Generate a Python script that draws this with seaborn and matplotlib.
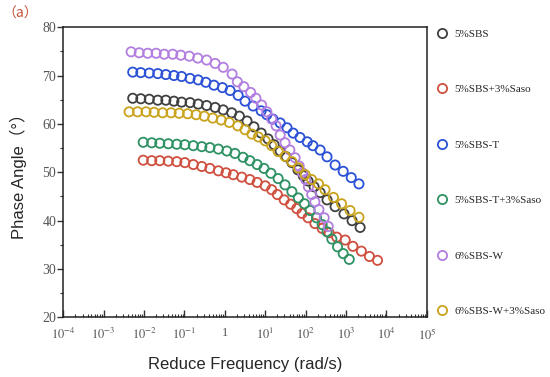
#!/usr/bin/env python3

import numpy as np
import pandas as pd
import matplotlib
matplotlib.use("Agg")
import matplotlib.pyplot as plt
from matplotlib.ticker import FixedLocator, FuncFormatter, LogLocator, MultipleLocator
import seaborn as sns

# log10 of reduced frequency (rad/s) and phase angle (deg)
sbs_logf = [-2.28, -2.08, -1.87, -1.66, -1.46, -1.26, -1.07, -0.86, -0.66, -0.45, -0.24, -0.04,
            0.17, 0.36, 0.55, 0.72, 0.90, 1.07, 1.22, 1.37, 1.52, 1.66, 1.81, 1.94, 2.06, 2.21,
            2.36, 2.53, 2.73, 2.95, 3.15, 3.35]
sbs_phase = [65.3, 65.2, 65.1, 64.9, 64.9, 64.7, 64.5, 64.4, 64.1, 63.8, 63.4, 62.9,
             62.3, 61.6, 60.6, 59.4, 58.1, 56.9, 55.7, 54.4, 53.2, 52.0, 50.5, 49.3, 48.2, 47.0,
             45.8, 44.3, 42.9, 41.4, 40.0, 38.6]

sbs_saso_logf = [-2.02, -1.81, -1.61, -1.40, -1.19, -0.99, -0.78, -0.57, -0.37, -0.16, 0.03, 0.21,
                 0.42, 0.62, 0.80, 1.00, 1.16, 1.30, 1.47, 1.63, 1.78, 1.91, 2.06, 2.23, 2.41,
                 2.58, 2.77, 2.98, 3.17, 3.38, 3.58, 3.78]
sbs_saso_phase = [52.5, 52.4, 52.4, 52.3, 52.2, 52.0, 51.6, 51.2, 50.8, 50.3, 49.9, 49.5,
                  49.0, 48.5, 47.9, 47.2, 46.4, 45.4, 44.3, 43.4, 42.5, 41.5, 40.6, 39.4, 38.4,
                  37.5, 36.6, 36.0, 34.7, 33.7, 32.6, 31.8]

sbs_t_logf = [-2.28, -2.08, -1.87, -1.66, -1.46, -1.26, -1.07, -0.86, -0.66, -0.47, -0.27, -0.06,
              0.13, 0.33, 0.50, 0.70, 0.90, 1.04, 1.19, 1.37, 1.54, 1.69, 1.86, 2.04, 2.18, 2.36,
              2.53, 2.73, 2.93, 3.13, 3.32]
sbs_t_phase = [70.7, 70.6, 70.5, 70.4, 70.2, 70.0, 69.8, 69.4, 69.1, 68.6, 68.0, 67.5,
               66.9, 65.9, 64.7, 63.7, 62.7, 61.9, 61.0, 60.2, 59.2, 58.1, 57.2, 56.3, 55.5, 54.6,
               53.2, 51.5, 50.2, 48.9, 47.6]

sbs_t_saso_logf = [-2.02, -1.81, -1.61, -1.40, -1.19, -0.99, -0.78, -0.57, -0.37, -0.16, 0.05, 0.25,
                   0.45, 0.62, 0.80, 0.97, 1.14, 1.32, 1.49, 1.66, 1.82, 1.97, 2.11, 2.27, 2.41,
                   2.53, 2.65, 2.79, 2.93, 3.08]
sbs_t_saso_phase = [56.2, 56.1, 56.0, 55.9, 55.8, 55.7, 55.5, 55.3, 55.1, 54.8, 54.4, 53.9,
                    53.1, 52.4, 51.6, 50.8, 49.8, 48.7, 47.4, 46.0, 44.7, 43.5, 42.1, 40.6, 39.2,
                    37.7, 36.2, 34.6, 33.2, 32.0]

sbs_w_logf = [-2.32, -2.12, -1.91, -1.70, -1.50, -1.29, -1.09, -0.88, -0.67, -0.45, -0.24, -0.04,
              0.18, 0.31, 0.47, 0.64, 0.77, 0.91, 1.04, 1.16, 1.27, 1.37, 1.49, 1.61, 1.74, 1.84,
              1.92, 2.00, 2.07, 2.15, 2.23, 2.33, 2.46, 2.56]
sbs_w_phase = [74.9, 74.7, 74.6, 74.6, 74.4, 74.4, 74.2, 74.0, 73.6, 73.2, 72.5, 71.7,
               70.3, 68.7, 67.7, 66.5, 65.3, 63.9, 62.5, 61.0, 59.6, 57.7, 56.1, 54.6, 53.0, 51.3,
               49.9, 48.5, 47.0, 45.4, 43.9, 42.3, 40.6, 38.8]

sbs_w_saso_logf = [-2.37, -2.16, -1.95, -1.75, -1.54, -1.33, -1.13, -0.92, -0.71, -0.51, -0.30, -0.09,
                   0.11, 0.32, 0.50, 0.67, 0.83, 1.00, 1.16, 1.32, 1.49, 1.66, 1.82, 1.99, 2.15,
                   2.32, 2.48, 2.69, 2.89, 3.10, 3.32]
sbs_w_saso_phase = [62.5, 62.5, 62.5, 62.4, 62.3, 62.3, 62.2, 62.1, 61.9, 61.6, 61.2, 60.8,
                    60.3, 59.6, 58.8, 57.9, 57.3, 56.5, 55.5, 54.3, 53.3, 52.2, 50.9, 49.5, 48.5,
                    47.6, 46.4, 44.8, 43.5, 42.1, 40.7]

labels = ["5%SBS", "5%SBS+3%Saso", "5%SBS-T", "5%SBS-T+3%Saso", "6%SBS-W", "6%SBS-W+3%Saso"]
colors = ["#404040", "#d05040", "#2b52d6", "#2e9264", "#b27fe0", "#c9a31c"]

series = [
    (sbs_logf, sbs_phase),
    (sbs_saso_logf, sbs_saso_phase),
    (sbs_t_logf, sbs_t_phase),
    (sbs_t_saso_logf, sbs_t_saso_phase),
    (sbs_w_logf, sbs_w_phase),
    (sbs_w_saso_logf, sbs_w_saso_phase),
]

frames = []
for name, (lf, ph) in zip(labels, series):
    frames.append(pd.DataFrame({"freq": np.power(10.0, lf), "phase": ph, "sample": name}))
df = pd.concat(frames, ignore_index=True)

sns.set_theme(style="ticks")
plt.rcParams["mathtext.fontset"] = "stix"

fig = plt.figure(figsize=(5.5, 3.77), dpi=100)
ax = fig.add_axes([0.115, 0.158, 0.661, 0.770])

sns.scatterplot(data=df, x="freq", y="phase", hue="sample", hue_order=labels,
                palette=colors, marker="o", s=44, linewidth=1.3, ax=ax, legend=True)

# hollow circles: move the hue colours onto the edges
pts = ax.collections[0]
pts.set_edgecolors(pts.get_facecolors())
pts.set_facecolors("none")

ax.set_xscale("log")
ax.set_xlim(1e-4, 1e5)
ax.set_ylim(20, 80)

def fmt_x(v, pos):
    e = int(round(np.log10(v)))
    if e == 0:
        return "1"
    return r"$10^{%d}$" % e

ax.xaxis.set_major_locator(FixedLocator([10.0 ** e for e in range(-4, 6)]))
ax.xaxis.set_major_formatter(FuncFormatter(fmt_x))
ax.xaxis.set_minor_locator(LogLocator(base=10, subs=np.arange(2, 10), numticks=20))
ax.yaxis.set_major_locator(MultipleLocator(10))
ax.yaxis.set_minor_locator(MultipleLocator(5))

ax.tick_params(axis="x", which="major", direction="in", length=5, width=1, colors="#333333",
               labelsize=9, pad=7)
ax.tick_params(axis="x", which="minor", direction="in", length=2.5, width=0.8, colors="#333333")
ax.tick_params(axis="y", which="major", direction="out", length=4, width=1, colors="#333333",
               labelsize=10, pad=1)
ax.tick_params(axis="y", which="minor", direction="out", length=2.5, width=0.8, colors="#333333")
for lbl in ax.get_xticklabels() + ax.get_yticklabels():
    lbl.set_fontfamily("Liberation Serif")
    lbl.set_color("#555555")

for sp in ax.spines.values():
    sp.set_visible(True)
    sp.set_linewidth(1.1)
    sp.set_color("#222222")

ax.set_xlabel("Reduce Frequency (rad/s)", fontsize=12, family=["Liberation Sans", "DejaVu Sans"],
              labelpad=10)
ax.set_ylabel("Phase Angle（°）", fontsize=12, family=["Liberation Sans", "Noto Sans CJK SC"],
              labelpad=11)

leg = ax.legend(loc="upper left", bbox_to_anchor=(1.0, 1.027), frameon=False,
                prop={"family": "Liberation Serif", "size": 8},
                labelspacing=4.12, handlelength=1.0, handletextpad=0.6, borderaxespad=0.45)
for h, c in zip(leg.legend_handles, colors):
    try:
        h.set_facecolor("none")
        h.set_edgecolor(c)
        h.set_linewidth(1.3)
    except AttributeError:
        h.set_markerfacecolor("none")
        h.set_markeredgecolor(c)
        h.set_markeredgewidth(1.3)

fig.text(0.004, 0.965, "（a）", color="#c8503c", fontsize=10,
         family=["Noto Sans CJK SC", "DejaVu Sans"], va="center")

fig.savefig("out.png", dpi=100)
